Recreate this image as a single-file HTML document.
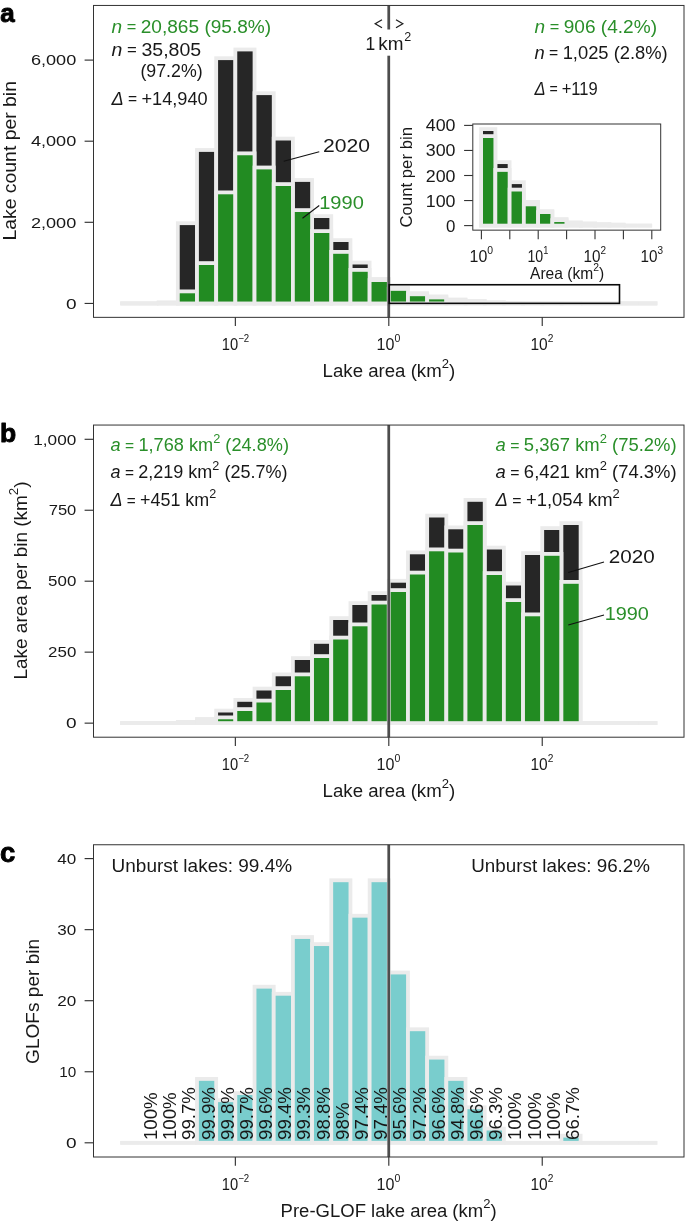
<!DOCTYPE html>
<html><head><meta charset="utf-8"><title>Figure</title>
<style>
html,body{margin:0;padding:0;background:#fff;}
body{width:685px;height:1221px;overflow:hidden;font-family:"Liberation Sans",sans-serif;}
svg{display:block;will-change:transform;font-family:"Liberation Sans",sans-serif;}
</style></head><body>
<svg width="685" height="1221" viewBox="0 0 685 1221">
<rect width="685" height="1221" fill="#fff"/>

<g id="panelA">
<line x1="120.28" y1="303.45" x2="657.32" y2="303.45" stroke="#ebebeb" stroke-width="3.8"/>
<line x1="120.28" y1="303.45" x2="139.46" y2="303.45" stroke="#ebebeb" stroke-width="3.8"/>
<line x1="139.46" y1="303.45" x2="158.64" y2="303.45" stroke="#ebebeb" stroke-width="3.8"/>
<rect x="158.64" y="302.30" width="19.18" height="1.15" fill="#262626" stroke="#ebebeb" stroke-width="3.8"/>
<rect x="177.82" y="223.20" width="19.18" height="80.25" fill="#262626" stroke="#ebebeb" stroke-width="3.8"/>
<rect x="197.00" y="150.00" width="19.18" height="153.45" fill="#262626" stroke="#ebebeb" stroke-width="3.8"/>
<rect x="216.18" y="58.20" width="19.18" height="245.25" fill="#262626" stroke="#ebebeb" stroke-width="3.8"/>
<rect x="235.36" y="49.50" width="19.18" height="253.95" fill="#262626" stroke="#ebebeb" stroke-width="3.8"/>
<rect x="254.54" y="93.20" width="19.18" height="210.25" fill="#262626" stroke="#ebebeb" stroke-width="3.8"/>
<rect x="273.72" y="138.60" width="19.18" height="164.85" fill="#262626" stroke="#ebebeb" stroke-width="3.8"/>
<rect x="292.90" y="180.00" width="19.18" height="123.45" fill="#262626" stroke="#ebebeb" stroke-width="3.8"/>
<rect x="312.08" y="216.10" width="19.18" height="87.35" fill="#262626" stroke="#ebebeb" stroke-width="3.8"/>
<rect x="331.26" y="240.10" width="19.18" height="63.35" fill="#262626" stroke="#ebebeb" stroke-width="3.8"/>
<rect x="350.44" y="262.60" width="19.18" height="40.85" fill="#262626" stroke="#ebebeb" stroke-width="3.8"/>
<rect x="369.62" y="279.00" width="19.18" height="24.45" fill="#262626" stroke="#ebebeb" stroke-width="3.8"/>
<rect x="388.80" y="287.80" width="19.18" height="15.65" fill="#262626" stroke="#ebebeb" stroke-width="3.8"/>
<rect x="407.98" y="293.15" width="19.18" height="10.30" fill="#262626" stroke="#ebebeb" stroke-width="3.8"/>
<rect x="427.16" y="296.40" width="19.18" height="7.05" fill="#262626" stroke="#ebebeb" stroke-width="3.8"/>
<rect x="446.34" y="299.50" width="19.18" height="3.95" fill="#262626" stroke="#ebebeb" stroke-width="3.8"/>
<rect x="465.52" y="301.10" width="19.18" height="2.35" fill="#262626" stroke="#ebebeb" stroke-width="3.8"/>
<rect x="484.70" y="302.39" width="19.18" height="1.06" fill="#262626" stroke="#ebebeb" stroke-width="3.8"/>
<rect x="503.88" y="302.95" width="19.18" height="0.50" fill="#262626" stroke="#ebebeb" stroke-width="3.8"/>
<rect x="523.06" y="303.10" width="19.18" height="0.35" fill="#262626" stroke="#ebebeb" stroke-width="3.8"/>
<rect x="542.24" y="303.20" width="19.18" height="0.25" fill="#262626" stroke="#ebebeb" stroke-width="3.8"/>
<rect x="561.42" y="303.30" width="19.18" height="0.15" fill="#262626" stroke="#ebebeb" stroke-width="3.8"/>
<line x1="580.60" y1="303.45" x2="599.78" y2="303.45" stroke="#ebebeb" stroke-width="3.8"/>
<line x1="599.78" y1="303.45" x2="618.96" y2="303.45" stroke="#ebebeb" stroke-width="3.8"/>
<line x1="618.96" y1="303.45" x2="638.14" y2="303.45" stroke="#ebebeb" stroke-width="3.8"/>
<line x1="638.14" y1="303.45" x2="657.32" y2="303.45" stroke="#ebebeb" stroke-width="3.8"/>
<line x1="120.28" y1="303.45" x2="139.46" y2="303.45" stroke="#ebebeb" stroke-width="3.8"/>
<line x1="139.46" y1="303.45" x2="158.64" y2="303.45" stroke="#ebebeb" stroke-width="3.8"/>
<rect x="158.64" y="303.00" width="19.18" height="0.45" fill="#228b22" stroke="#ebebeb" stroke-width="3.8"/>
<rect x="177.82" y="291.40" width="19.18" height="12.05" fill="#228b22" stroke="#ebebeb" stroke-width="3.8"/>
<rect x="197.00" y="263.10" width="19.18" height="40.35" fill="#228b22" stroke="#ebebeb" stroke-width="3.8"/>
<rect x="216.18" y="192.40" width="19.18" height="111.05" fill="#228b22" stroke="#ebebeb" stroke-width="3.8"/>
<rect x="235.36" y="153.35" width="19.18" height="150.10" fill="#228b22" stroke="#ebebeb" stroke-width="3.8"/>
<rect x="254.54" y="167.50" width="19.18" height="135.95" fill="#228b22" stroke="#ebebeb" stroke-width="3.8"/>
<rect x="273.72" y="184.10" width="19.18" height="119.35" fill="#228b22" stroke="#ebebeb" stroke-width="3.8"/>
<rect x="292.90" y="210.10" width="19.18" height="93.35" fill="#228b22" stroke="#ebebeb" stroke-width="3.8"/>
<rect x="312.08" y="231.10" width="19.18" height="72.35" fill="#228b22" stroke="#ebebeb" stroke-width="3.8"/>
<rect x="331.26" y="251.90" width="19.18" height="51.55" fill="#228b22" stroke="#ebebeb" stroke-width="3.8"/>
<rect x="350.44" y="269.90" width="19.18" height="33.55" fill="#228b22" stroke="#ebebeb" stroke-width="3.8"/>
<rect x="369.62" y="280.10" width="19.18" height="23.35" fill="#228b22" stroke="#ebebeb" stroke-width="3.8"/>
<rect x="388.80" y="288.95" width="19.18" height="14.50" fill="#228b22" stroke="#ebebeb" stroke-width="3.8"/>
<rect x="407.98" y="294.30" width="19.18" height="9.15" fill="#228b22" stroke="#ebebeb" stroke-width="3.8"/>
<rect x="427.16" y="297.50" width="19.18" height="5.95" fill="#228b22" stroke="#ebebeb" stroke-width="3.8"/>
<rect x="446.34" y="300.00" width="19.18" height="3.45" fill="#228b22" stroke="#ebebeb" stroke-width="3.8"/>
<rect x="465.52" y="301.26" width="19.18" height="2.19" fill="#228b22" stroke="#ebebeb" stroke-width="3.8"/>
<rect x="484.70" y="302.57" width="19.18" height="0.88" fill="#228b22" stroke="#ebebeb" stroke-width="3.8"/>
<rect x="503.88" y="303.00" width="19.18" height="0.45" fill="#228b22" stroke="#ebebeb" stroke-width="3.8"/>
<rect x="523.06" y="303.15" width="19.18" height="0.30" fill="#228b22" stroke="#ebebeb" stroke-width="3.8"/>
<rect x="542.24" y="303.25" width="19.18" height="0.20" fill="#228b22" stroke="#ebebeb" stroke-width="3.8"/>
<rect x="561.42" y="303.33" width="19.18" height="0.12" fill="#228b22" stroke="#ebebeb" stroke-width="3.8"/>
<line x1="580.60" y1="303.45" x2="599.78" y2="303.45" stroke="#ebebeb" stroke-width="3.8"/>
<line x1="599.78" y1="303.45" x2="618.96" y2="303.45" stroke="#ebebeb" stroke-width="3.8"/>
<line x1="618.96" y1="303.45" x2="638.14" y2="303.45" stroke="#ebebeb" stroke-width="3.8"/>
<line x1="638.14" y1="303.45" x2="657.32" y2="303.45" stroke="#ebebeb" stroke-width="3.8"/>
<line x1="388.75" y1="5.45" x2="388.75" y2="317.35" stroke="#4d4d4d" stroke-width="2.75"/>
<rect x="364" y="29.5" width="50" height="26.2" fill="#fff"/>
<polyline points="382.0,19.8 375.2,23.8 382.0,27.8" fill="none" stroke="#1f1f1f" stroke-width="1.25"/>
<polyline points="396.0,19.8 402.8,23.8 396.0,27.8" fill="none" stroke="#1f1f1f" stroke-width="1.25"/>
<text x="365.60" y="49.50" font-size="17.5" fill="#181818">1</text>
<text x="378.20" y="49.50" font-size="17.5" fill="#181818" textLength="25.20" lengthAdjust="spacingAndGlyphs">km</text>
<text x="404.30" y="41.30" font-size="12" fill="#181818" textLength="7.00" lengthAdjust="spacingAndGlyphs">2</text>
<rect x="389.2" y="284.75" width="230.3" height="18.6" fill="none" stroke="#0a0a0a" stroke-width="1.6"/>
<rect x="93.5" y="5.45" width="590.5" height="311.90000000000003" fill="none" stroke="#333" stroke-width="1"/>
<line x1="235.36" y1="317.35" x2="235.36" y2="326.05" stroke="#333" stroke-width="1.15"/><line x1="388.80" y1="317.35" x2="388.80" y2="326.05" stroke="#333" stroke-width="1.15"/><line x1="542.24" y1="317.35" x2="542.24" y2="326.05" stroke="#333" stroke-width="1.15"/>
<line x1="84.6" y1="60.10" x2="93.5" y2="60.10" stroke="#333" stroke-width="1.15"/><line x1="84.6" y1="141.20" x2="93.5" y2="141.20" stroke="#333" stroke-width="1.15"/><line x1="84.6" y1="222.30" x2="93.5" y2="222.30" stroke="#333" stroke-width="1.15"/><line x1="84.6" y1="303.45" x2="93.5" y2="303.45" stroke="#333" stroke-width="1.15"/>
<text x="76.30" y="65.30" font-size="15.5" fill="#181818" text-anchor="end" textLength="45.40" lengthAdjust="spacingAndGlyphs">6,000</text>
<text x="76.30" y="146.40" font-size="15.5" fill="#181818" text-anchor="end" textLength="45.40" lengthAdjust="spacingAndGlyphs">4,000</text>
<text x="76.30" y="227.50" font-size="15.5" fill="#181818" text-anchor="end" textLength="45.40" lengthAdjust="spacingAndGlyphs">2,000</text>
<text x="76.60" y="308.65" font-size="15.5" fill="#181818" text-anchor="end" textLength="10.60" lengthAdjust="spacingAndGlyphs">0</text>
<text transform="translate(15.90,160.80) rotate(-90)" font-size="17.5" fill="#181818" text-anchor="middle" textLength="159.50" lengthAdjust="spacingAndGlyphs">Lake count per bin</text>
<text x="0.3" y="22.2" font-size="26" font-weight="bold" fill="#000" stroke="#000" stroke-width="0.9" stroke-linejoin="round">a</text>
<text x="111.50" y="32.70" font-size="17.5" fill="#2a8f2a" textLength="159.70" lengthAdjust="spacingAndGlyphs"><tspan font-style="italic">n</tspan><tspan font-size="15" dy="-0.7"> =</tspan><tspan font-size="15" dy="0.7"> </tspan>20,865 (95.8%)</text>
<text x="111.50" y="55.50" font-size="17.5" fill="#181818" textLength="89.70" lengthAdjust="spacingAndGlyphs"><tspan font-style="italic">n</tspan><tspan font-size="15" dy="-0.7"> =</tspan><tspan font-size="15" dy="0.7"> </tspan>35,805</text>
<text x="140.40" y="77.40" font-size="17.5" fill="#181818" textLength="62.20" lengthAdjust="spacingAndGlyphs">(97.2%)</text>
<text x="111.50" y="105.10" font-size="17.5" fill="#181818" textLength="96.10" lengthAdjust="spacingAndGlyphs"><tspan font-style="italic">&#916;</tspan><tspan font-size="15" dy="-0.7"> =</tspan><tspan font-size="15" dy="0.7"> </tspan>+14,940</text>
<text x="534.50" y="33.00" font-size="17.5" fill="#2a8f2a" textLength="122.50" lengthAdjust="spacingAndGlyphs"><tspan font-style="italic">n</tspan><tspan font-size="15" dy="-0.7"> =</tspan><tspan font-size="15" dy="0.7"> </tspan>906 (4.2%)</text>
<text x="534.50" y="58.70" font-size="17.5" fill="#181818" textLength="133.20" lengthAdjust="spacingAndGlyphs"><tspan font-style="italic">n</tspan><tspan font-size="15" dy="-0.7"> =</tspan><tspan font-size="15" dy="0.7"> </tspan>1,025 (2.8%)</text>
<text x="534.50" y="94.50" font-size="17.5" fill="#181818" textLength="63.20" lengthAdjust="spacingAndGlyphs"><tspan font-style="italic">&#916;</tspan><tspan font-size="15" dy="-0.7"> =</tspan><tspan font-size="15" dy="0.7"> </tspan>+119</text>
<text x="323.00" y="152.00" font-size="18.7" fill="#181818" textLength="47.00" lengthAdjust="spacingAndGlyphs">2020</text>
<line x1="319.25" y1="151.75" x2="283.75" y2="161.25" stroke="#111" stroke-width="1.1"/>
<text x="319.20" y="208.90" font-size="18.7" fill="#2a8f2a" textLength="44.60" lengthAdjust="spacingAndGlyphs">1990</text>
<line x1="319.25" y1="205.5" x2="302.5" y2="218.25" stroke="#111" stroke-width="1.1"/>
<text x="221.80" y="349.50" font-size="16" fill="#181818" textLength="27.40" lengthAdjust="spacingAndGlyphs">10<tspan font-size="10.5" dy="-7.6">&#8722;2</tspan><tspan dy="7.6" font-size="1">&#8203;</tspan></text><text x="376.60" y="349.50" font-size="16" fill="#181818" textLength="23.70" lengthAdjust="spacingAndGlyphs">10<tspan font-size="10.5" dy="-7.6">0</tspan><tspan dy="7.6" font-size="1">&#8203;</tspan></text><text x="530.40" y="349.50" font-size="16" fill="#181818" textLength="22.90" lengthAdjust="spacingAndGlyphs">10<tspan font-size="10.5" dy="-7.6">2</tspan><tspan dy="7.6" font-size="1">&#8203;</tspan></text>
<text x="322.60" y="377.00" font-size="17.5" fill="#181818" textLength="132.60" lengthAdjust="spacingAndGlyphs">Lake area (km<tspan font-size="12.3" dy="-9.5">2</tspan><tspan dy="9.5" font-size="1">&#8203;</tspan>)</text>
<rect x="472.8" y="124.0" width="187.90000000000003" height="106.15" fill="#fff" stroke="none"/>
<rect x="481.10" y="129.10" width="14.25" height="96.50" fill="#262626" stroke="#ebebeb" stroke-width="3.8"/>
<rect x="495.35" y="162.15" width="14.25" height="63.45" fill="#262626" stroke="#ebebeb" stroke-width="3.8"/>
<rect x="509.60" y="182.20" width="14.25" height="43.40" fill="#262626" stroke="#ebebeb" stroke-width="3.8"/>
<rect x="523.85" y="201.90" width="14.25" height="23.70" fill="#262626" stroke="#ebebeb" stroke-width="3.8"/>
<rect x="538.10" y="211.10" width="14.25" height="14.50" fill="#262626" stroke="#ebebeb" stroke-width="3.8"/>
<rect x="552.35" y="219.05" width="14.25" height="6.55" fill="#262626" stroke="#ebebeb" stroke-width="3.8"/>
<rect x="566.60" y="222.50" width="14.25" height="3.10" fill="#262626" stroke="#ebebeb" stroke-width="3.8"/>
<rect x="580.85" y="223.50" width="14.25" height="2.10" fill="#262626" stroke="#ebebeb" stroke-width="3.8"/>
<rect x="595.10" y="224.10" width="14.25" height="1.50" fill="#262626" stroke="#ebebeb" stroke-width="3.8"/>
<rect x="609.35" y="224.65" width="14.25" height="0.95" fill="#262626" stroke="#ebebeb" stroke-width="3.8"/>
<line x1="623.60" y1="225.60" x2="637.85" y2="225.60" stroke="#ebebeb" stroke-width="3.8"/>
<line x1="637.85" y1="225.60" x2="652.10" y2="225.60" stroke="#ebebeb" stroke-width="3.8"/>
<rect x="481.10" y="136.10" width="14.25" height="89.50" fill="#228b22" stroke="#ebebeb" stroke-width="3.8"/>
<rect x="495.35" y="169.95" width="14.25" height="55.65" fill="#228b22" stroke="#ebebeb" stroke-width="3.8"/>
<rect x="509.60" y="189.60" width="14.25" height="36.00" fill="#228b22" stroke="#ebebeb" stroke-width="3.8"/>
<rect x="523.85" y="204.40" width="14.25" height="21.20" fill="#228b22" stroke="#ebebeb" stroke-width="3.8"/>
<rect x="538.10" y="212.10" width="14.25" height="13.50" fill="#228b22" stroke="#ebebeb" stroke-width="3.8"/>
<rect x="552.35" y="220.15" width="14.25" height="5.45" fill="#228b22" stroke="#ebebeb" stroke-width="3.8"/>
<rect x="566.60" y="222.70" width="14.25" height="2.90" fill="#228b22" stroke="#ebebeb" stroke-width="3.8"/>
<rect x="580.85" y="223.70" width="14.25" height="1.90" fill="#228b22" stroke="#ebebeb" stroke-width="3.8"/>
<rect x="595.10" y="224.25" width="14.25" height="1.35" fill="#228b22" stroke="#ebebeb" stroke-width="3.8"/>
<rect x="609.35" y="224.80" width="14.25" height="0.80" fill="#228b22" stroke="#ebebeb" stroke-width="3.8"/>
<line x1="623.60" y1="225.60" x2="637.85" y2="225.60" stroke="#ebebeb" stroke-width="3.8"/>
<line x1="637.85" y1="225.60" x2="652.10" y2="225.60" stroke="#ebebeb" stroke-width="3.8"/>
<rect x="472.8" y="124.0" width="187.90000000000003" height="106.15" fill="none" stroke="#333" stroke-width="1"/>
<line x1="464.1" y1="125.4" x2="472.8" y2="125.4" stroke="#333" stroke-width="1.1"/>
<text x="455.50" y="131.40" font-size="16.5" fill="#181818" text-anchor="end" textLength="29.75" lengthAdjust="spacingAndGlyphs">400</text>
<line x1="464.1" y1="150.45" x2="472.8" y2="150.45" stroke="#333" stroke-width="1.1"/>
<text x="455.50" y="156.45" font-size="16.5" fill="#181818" text-anchor="end" textLength="29.75" lengthAdjust="spacingAndGlyphs">300</text>
<line x1="464.1" y1="175.5" x2="472.8" y2="175.5" stroke="#333" stroke-width="1.1"/>
<text x="455.50" y="181.50" font-size="16.5" fill="#181818" text-anchor="end" textLength="29.75" lengthAdjust="spacingAndGlyphs">200</text>
<line x1="464.1" y1="200.55" x2="472.8" y2="200.55" stroke="#333" stroke-width="1.1"/>
<text x="455.50" y="206.55" font-size="16.5" fill="#181818" text-anchor="end" textLength="29.75" lengthAdjust="spacingAndGlyphs">100</text>
<line x1="464.1" y1="225.6" x2="472.8" y2="225.6" stroke="#333" stroke-width="1.1"/>
<text x="455.50" y="231.60" font-size="16.5" fill="#181818" text-anchor="end" textLength="9.40" lengthAdjust="spacingAndGlyphs">0</text>
<line x1="481.40" y1="230.15" x2="481.40" y2="239.15" stroke="#333" stroke-width="1.1"/>
<line x1="509.80" y1="230.15" x2="509.80" y2="239.15" stroke="#333" stroke-width="1.1"/>
<line x1="538.20" y1="230.15" x2="538.20" y2="239.15" stroke="#333" stroke-width="1.1"/>
<line x1="566.60" y1="230.15" x2="566.60" y2="239.15" stroke="#333" stroke-width="1.1"/>
<line x1="595.00" y1="230.15" x2="595.00" y2="239.15" stroke="#333" stroke-width="1.1"/>
<line x1="623.40" y1="230.15" x2="623.40" y2="239.15" stroke="#333" stroke-width="1.1"/>
<line x1="651.80" y1="230.15" x2="651.80" y2="239.15" stroke="#333" stroke-width="1.1"/>
<text x="469.60" y="262.00" font-size="16" fill="#181818" textLength="23.50" lengthAdjust="spacingAndGlyphs">10<tspan font-size="10.5" dy="-7.6">0</tspan><tspan dy="7.6" font-size="1">&#8203;</tspan></text>
<text x="527.40" y="262.00" font-size="16" fill="#181818" textLength="20.90" lengthAdjust="spacingAndGlyphs">10<tspan font-size="10.5" dy="-7.6">1</tspan><tspan dy="7.6" font-size="1">&#8203;</tspan></text>
<text x="583.60" y="262.00" font-size="16" fill="#181818" textLength="22.50" lengthAdjust="spacingAndGlyphs">10<tspan font-size="10.5" dy="-7.6">2</tspan><tspan dy="7.6" font-size="1">&#8203;</tspan></text>
<text x="640.50" y="262.00" font-size="16" fill="#181818" textLength="22.50" lengthAdjust="spacingAndGlyphs">10<tspan font-size="10.5" dy="-7.6">3</tspan><tspan dy="7.6" font-size="1">&#8203;</tspan></text>
<text x="530.00" y="278.75" font-size="16.5" fill="#181818" textLength="74.20" lengthAdjust="spacingAndGlyphs">Area (km<tspan font-size="11" dy="-8.2">2</tspan><tspan dy="8.2" font-size="1">&#8203;</tspan>)</text>
<text transform="translate(411.90,177.30) rotate(-90)" font-size="16.5" fill="#181818" text-anchor="middle" textLength="100.60" lengthAdjust="spacingAndGlyphs">Count per bin</text>
</g>
<g id="panelB">
<line x1="120.28" y1="723.10" x2="657.32" y2="723.10" stroke="#ebebeb" stroke-width="3.8"/>
<line x1="120.28" y1="723.10" x2="139.46" y2="723.10" stroke="#ebebeb" stroke-width="3.8"/>
<line x1="139.46" y1="723.10" x2="158.64" y2="723.10" stroke="#ebebeb" stroke-width="3.8"/>
<line x1="158.64" y1="723.10" x2="177.82" y2="723.10" stroke="#ebebeb" stroke-width="3.8"/>
<rect x="177.82" y="721.90" width="19.18" height="1.20" fill="#262626" stroke="#ebebeb" stroke-width="3.8"/>
<rect x="197.00" y="719.00" width="19.18" height="4.10" fill="#262626" stroke="#ebebeb" stroke-width="3.8"/>
<rect x="216.18" y="710.60" width="19.18" height="12.50" fill="#262626" stroke="#ebebeb" stroke-width="3.8"/>
<rect x="235.36" y="699.90" width="19.18" height="23.20" fill="#262626" stroke="#ebebeb" stroke-width="3.8"/>
<rect x="254.54" y="688.60" width="19.18" height="34.50" fill="#262626" stroke="#ebebeb" stroke-width="3.8"/>
<rect x="273.72" y="674.40" width="19.18" height="48.70" fill="#262626" stroke="#ebebeb" stroke-width="3.8"/>
<rect x="292.90" y="658.10" width="19.18" height="65.00" fill="#262626" stroke="#ebebeb" stroke-width="3.8"/>
<rect x="312.08" y="641.90" width="19.18" height="81.20" fill="#262626" stroke="#ebebeb" stroke-width="3.8"/>
<rect x="331.26" y="618.10" width="19.18" height="105.00" fill="#262626" stroke="#ebebeb" stroke-width="3.8"/>
<rect x="350.44" y="603.10" width="19.18" height="120.00" fill="#262626" stroke="#ebebeb" stroke-width="3.8"/>
<rect x="369.62" y="593.10" width="19.18" height="130.00" fill="#262626" stroke="#ebebeb" stroke-width="3.8"/>
<rect x="388.80" y="580.80" width="19.18" height="142.30" fill="#262626" stroke="#ebebeb" stroke-width="3.8"/>
<rect x="407.98" y="552.40" width="19.18" height="170.70" fill="#262626" stroke="#ebebeb" stroke-width="3.8"/>
<rect x="427.16" y="515.60" width="19.18" height="207.50" fill="#262626" stroke="#ebebeb" stroke-width="3.8"/>
<rect x="446.34" y="527.40" width="19.18" height="195.70" fill="#262626" stroke="#ebebeb" stroke-width="3.8"/>
<rect x="465.52" y="499.90" width="19.18" height="223.20" fill="#262626" stroke="#ebebeb" stroke-width="3.8"/>
<rect x="484.70" y="547.60" width="19.18" height="175.50" fill="#262626" stroke="#ebebeb" stroke-width="3.8"/>
<rect x="503.88" y="583.60" width="19.18" height="139.50" fill="#262626" stroke="#ebebeb" stroke-width="3.8"/>
<rect x="523.06" y="553.10" width="19.18" height="170.00" fill="#262626" stroke="#ebebeb" stroke-width="3.8"/>
<rect x="542.24" y="528.10" width="19.18" height="195.00" fill="#262626" stroke="#ebebeb" stroke-width="3.8"/>
<rect x="561.42" y="523.10" width="19.18" height="200.00" fill="#262626" stroke="#ebebeb" stroke-width="3.8"/>
<line x1="580.60" y1="723.10" x2="599.78" y2="723.10" stroke="#ebebeb" stroke-width="3.8"/>
<line x1="599.78" y1="723.10" x2="618.96" y2="723.10" stroke="#ebebeb" stroke-width="3.8"/>
<line x1="618.96" y1="723.10" x2="638.14" y2="723.10" stroke="#ebebeb" stroke-width="3.8"/>
<line x1="638.14" y1="723.10" x2="657.32" y2="723.10" stroke="#ebebeb" stroke-width="3.8"/>
<line x1="120.28" y1="723.10" x2="139.46" y2="723.10" stroke="#ebebeb" stroke-width="3.8"/>
<line x1="139.46" y1="723.10" x2="158.64" y2="723.10" stroke="#ebebeb" stroke-width="3.8"/>
<line x1="158.64" y1="723.10" x2="177.82" y2="723.10" stroke="#ebebeb" stroke-width="3.8"/>
<rect x="177.82" y="722.40" width="19.18" height="0.70" fill="#228b22" stroke="#ebebeb" stroke-width="3.8"/>
<rect x="197.00" y="720.50" width="19.18" height="2.60" fill="#228b22" stroke="#ebebeb" stroke-width="3.8"/>
<rect x="216.18" y="717.40" width="19.18" height="5.70" fill="#228b22" stroke="#ebebeb" stroke-width="3.8"/>
<rect x="235.36" y="709.10" width="19.18" height="14.00" fill="#228b22" stroke="#ebebeb" stroke-width="3.8"/>
<rect x="254.54" y="700.60" width="19.18" height="22.50" fill="#228b22" stroke="#ebebeb" stroke-width="3.8"/>
<rect x="273.72" y="688.10" width="19.18" height="35.00" fill="#228b22" stroke="#ebebeb" stroke-width="3.8"/>
<rect x="292.90" y="674.40" width="19.18" height="48.70" fill="#228b22" stroke="#ebebeb" stroke-width="3.8"/>
<rect x="312.08" y="656.10" width="19.18" height="67.00" fill="#228b22" stroke="#ebebeb" stroke-width="3.8"/>
<rect x="331.26" y="637.60" width="19.18" height="85.50" fill="#228b22" stroke="#ebebeb" stroke-width="3.8"/>
<rect x="350.44" y="624.40" width="19.18" height="98.70" fill="#228b22" stroke="#ebebeb" stroke-width="3.8"/>
<rect x="369.62" y="602.60" width="19.18" height="120.50" fill="#228b22" stroke="#ebebeb" stroke-width="3.8"/>
<rect x="388.80" y="590.10" width="19.18" height="133.00" fill="#228b22" stroke="#ebebeb" stroke-width="3.8"/>
<rect x="407.98" y="572.60" width="19.18" height="150.50" fill="#228b22" stroke="#ebebeb" stroke-width="3.8"/>
<rect x="427.16" y="549.40" width="19.18" height="173.70" fill="#228b22" stroke="#ebebeb" stroke-width="3.8"/>
<rect x="446.34" y="550.60" width="19.18" height="172.50" fill="#228b22" stroke="#ebebeb" stroke-width="3.8"/>
<rect x="465.52" y="523.10" width="19.18" height="200.00" fill="#228b22" stroke="#ebebeb" stroke-width="3.8"/>
<rect x="484.70" y="573.10" width="19.18" height="150.00" fill="#228b22" stroke="#ebebeb" stroke-width="3.8"/>
<rect x="503.88" y="600.10" width="19.18" height="123.00" fill="#228b22" stroke="#ebebeb" stroke-width="3.8"/>
<rect x="523.06" y="614.40" width="19.18" height="108.70" fill="#228b22" stroke="#ebebeb" stroke-width="3.8"/>
<rect x="542.24" y="553.90" width="19.18" height="169.20" fill="#228b22" stroke="#ebebeb" stroke-width="3.8"/>
<rect x="561.42" y="581.90" width="19.18" height="141.20" fill="#228b22" stroke="#ebebeb" stroke-width="3.8"/>
<line x1="580.60" y1="723.10" x2="599.78" y2="723.10" stroke="#ebebeb" stroke-width="3.8"/>
<line x1="599.78" y1="723.10" x2="618.96" y2="723.10" stroke="#ebebeb" stroke-width="3.8"/>
<line x1="618.96" y1="723.10" x2="638.14" y2="723.10" stroke="#ebebeb" stroke-width="3.8"/>
<line x1="638.14" y1="723.10" x2="657.32" y2="723.10" stroke="#ebebeb" stroke-width="3.8"/>
<line x1="388.75" y1="425.05" x2="388.75" y2="737.2" stroke="#4d4d4d" stroke-width="2.75"/>
<rect x="93.5" y="425.05" width="590.5" height="312.15000000000003" fill="none" stroke="#333" stroke-width="1"/>
<line x1="235.36" y1="737.2" x2="235.36" y2="745.9000000000001" stroke="#333" stroke-width="1.15"/><line x1="388.80" y1="737.2" x2="388.80" y2="745.9000000000001" stroke="#333" stroke-width="1.15"/><line x1="542.24" y1="737.2" x2="542.24" y2="745.9000000000001" stroke="#333" stroke-width="1.15"/>
<line x1="84.6" y1="439.30" x2="93.5" y2="439.30" stroke="#333" stroke-width="1.15"/><line x1="84.6" y1="510.25" x2="93.5" y2="510.25" stroke="#333" stroke-width="1.15"/><line x1="84.6" y1="581.20" x2="93.5" y2="581.20" stroke="#333" stroke-width="1.15"/><line x1="84.6" y1="652.15" x2="93.5" y2="652.15" stroke="#333" stroke-width="1.15"/><line x1="84.6" y1="723.15" x2="93.5" y2="723.15" stroke="#333" stroke-width="1.15"/>
<text x="76.30" y="444.50" font-size="15.5" fill="#181818" text-anchor="end" textLength="43.00" lengthAdjust="spacingAndGlyphs">1,000</text>
<text x="76.30" y="515.45" font-size="15.5" fill="#181818" text-anchor="end" textLength="27.60" lengthAdjust="spacingAndGlyphs">750</text>
<text x="76.30" y="586.40" font-size="15.5" fill="#181818" text-anchor="end" textLength="28.20" lengthAdjust="spacingAndGlyphs">500</text>
<text x="76.30" y="657.35" font-size="15.5" fill="#181818" text-anchor="end" textLength="28.20" lengthAdjust="spacingAndGlyphs">250</text>
<text x="76.60" y="728.35" font-size="15.5" fill="#181818" text-anchor="end" textLength="10.60" lengthAdjust="spacingAndGlyphs">0</text>
<text transform="translate(26.70,580.50) rotate(-90)" font-size="17.5" fill="#181818" text-anchor="middle" textLength="198.00" lengthAdjust="spacingAndGlyphs">Lake area per bin (km<tspan font-size="12.3" dy="-8.4">2</tspan><tspan dy="8.4" font-size="1">&#8203;</tspan>)</text>
<text x="0.0" y="441.7" font-size="26.5" font-weight="bold" fill="#000" stroke="#000" stroke-width="0.9" stroke-linejoin="round">b</text>
<text x="110.60" y="451.40" font-size="17.5" fill="#2a8f2a" textLength="178.40" lengthAdjust="spacingAndGlyphs"><tspan font-style="italic">a</tspan><tspan font-size="15" dy="-0.7"> =</tspan><tspan font-size="15" dy="0.7"> </tspan>1,768 km<tspan font-size="12.3" dy="-8.5">2</tspan><tspan dy="8.5" font-size="1">&#8203;</tspan> (24.8%)</text>
<text x="110.60" y="478.40" font-size="17.5" fill="#181818" textLength="176.90" lengthAdjust="spacingAndGlyphs"><tspan font-style="italic">a</tspan><tspan font-size="15" dy="-0.7"> =</tspan><tspan font-size="15" dy="0.7"> </tspan>2,219 km<tspan font-size="12.3" dy="-8.5">2</tspan><tspan dy="8.5" font-size="1">&#8203;</tspan> (25.7%)</text>
<text x="110.60" y="506.20" font-size="17.5" fill="#181818" textLength="105.60" lengthAdjust="spacingAndGlyphs"><tspan font-style="italic">&#916;</tspan><tspan font-size="15" dy="-0.7"> =</tspan><tspan font-size="15" dy="0.7"> </tspan>+451 km<tspan font-size="12.3" dy="-8.5">2</tspan><tspan dy="8.5" font-size="1">&#8203;</tspan></text>
<text x="495.60" y="451.40" font-size="17.5" fill="#2a8f2a" textLength="181.00" lengthAdjust="spacingAndGlyphs"><tspan font-style="italic">a</tspan><tspan font-size="15" dy="-0.7"> =</tspan><tspan font-size="15" dy="0.7"> </tspan>5,367 km<tspan font-size="12.3" dy="-8.5">2</tspan><tspan dy="8.5" font-size="1">&#8203;</tspan> (75.2%)</text>
<text x="495.60" y="478.40" font-size="17.5" fill="#181818" textLength="181.00" lengthAdjust="spacingAndGlyphs"><tspan font-style="italic">a</tspan><tspan font-size="15" dy="-0.7"> =</tspan><tspan font-size="15" dy="0.7"> </tspan>6,421 km<tspan font-size="12.3" dy="-8.5">2</tspan><tspan dy="8.5" font-size="1">&#8203;</tspan> (74.3%)</text>
<text x="495.60" y="506.20" font-size="17.5" fill="#181818" textLength="124.20" lengthAdjust="spacingAndGlyphs"><tspan font-style="italic">&#916;</tspan><tspan font-size="15" dy="-0.7"> =</tspan><tspan font-size="15" dy="0.7"> </tspan>+1,054 km<tspan font-size="12.3" dy="-8.5">2</tspan><tspan dy="8.5" font-size="1">&#8203;</tspan></text>
<text x="608.70" y="563.00" font-size="18.7" fill="#181818" textLength="46.00" lengthAdjust="spacingAndGlyphs">2020</text>
<line x1="604" y1="562" x2="568.25" y2="572.5" stroke="#111" stroke-width="1.1"/>
<text x="604.70" y="620.10" font-size="18.7" fill="#2a8f2a" textLength="44.20" lengthAdjust="spacingAndGlyphs">1990</text>
<line x1="604" y1="615" x2="568.25" y2="625" stroke="#111" stroke-width="1.1"/>
<text x="221.80" y="769.50" font-size="16" fill="#181818" textLength="27.40" lengthAdjust="spacingAndGlyphs">10<tspan font-size="10.5" dy="-7.6">&#8722;2</tspan><tspan dy="7.6" font-size="1">&#8203;</tspan></text><text x="376.60" y="769.50" font-size="16" fill="#181818" textLength="23.70" lengthAdjust="spacingAndGlyphs">10<tspan font-size="10.5" dy="-7.6">0</tspan><tspan dy="7.6" font-size="1">&#8203;</tspan></text><text x="530.40" y="769.50" font-size="16" fill="#181818" textLength="22.90" lengthAdjust="spacingAndGlyphs">10<tspan font-size="10.5" dy="-7.6">2</tspan><tspan dy="7.6" font-size="1">&#8203;</tspan></text>
<text x="322.60" y="797.00" font-size="17.5" fill="#181818" textLength="132.60" lengthAdjust="spacingAndGlyphs">Lake area (km<tspan font-size="12.3" dy="-9.5">2</tspan><tspan dy="9.5" font-size="1">&#8203;</tspan>)</text>
</g>
<g id="panelC">
<line x1="120.28" y1="1142.80" x2="657.32" y2="1142.80" stroke="#ebebeb" stroke-width="3.8"/>
<line x1="120.28" y1="1142.80" x2="139.46" y2="1142.80" stroke="#ebebeb" stroke-width="3.8"/>
<line x1="139.46" y1="1142.80" x2="158.64" y2="1142.80" stroke="#ebebeb" stroke-width="3.8"/>
<line x1="158.64" y1="1142.80" x2="177.82" y2="1142.80" stroke="#ebebeb" stroke-width="3.8"/>
<line x1="177.82" y1="1142.80" x2="197.00" y2="1142.80" stroke="#ebebeb" stroke-width="3.8"/>
<rect x="197.00" y="1078.94" width="19.18" height="63.86" fill="#79cdcd" stroke="#ebebeb" stroke-width="3.8"/>
<rect x="216.18" y="1100.23" width="19.18" height="42.57" fill="#79cdcd" stroke="#ebebeb" stroke-width="3.8"/>
<rect x="235.36" y="1093.13" width="19.18" height="49.66" fill="#79cdcd" stroke="#ebebeb" stroke-width="3.8"/>
<rect x="254.54" y="986.71" width="19.18" height="156.09" fill="#79cdcd" stroke="#ebebeb" stroke-width="3.8"/>
<rect x="273.72" y="993.80" width="19.18" height="149.00" fill="#79cdcd" stroke="#ebebeb" stroke-width="3.8"/>
<rect x="292.90" y="937.04" width="19.18" height="205.75" fill="#79cdcd" stroke="#ebebeb" stroke-width="3.8"/>
<rect x="312.08" y="944.14" width="19.18" height="198.66" fill="#79cdcd" stroke="#ebebeb" stroke-width="3.8"/>
<rect x="331.26" y="880.28" width="19.18" height="262.51" fill="#79cdcd" stroke="#ebebeb" stroke-width="3.8"/>
<rect x="350.44" y="915.76" width="19.18" height="227.04" fill="#79cdcd" stroke="#ebebeb" stroke-width="3.8"/>
<rect x="369.62" y="880.28" width="19.18" height="262.51" fill="#79cdcd" stroke="#ebebeb" stroke-width="3.8"/>
<rect x="388.80" y="972.52" width="19.18" height="170.28" fill="#79cdcd" stroke="#ebebeb" stroke-width="3.8"/>
<rect x="407.98" y="1029.28" width="19.18" height="113.52" fill="#79cdcd" stroke="#ebebeb" stroke-width="3.8"/>
<rect x="427.16" y="1057.66" width="19.18" height="85.14" fill="#79cdcd" stroke="#ebebeb" stroke-width="3.8"/>
<rect x="446.34" y="1078.94" width="19.18" height="63.86" fill="#79cdcd" stroke="#ebebeb" stroke-width="3.8"/>
<rect x="465.52" y="1107.33" width="19.18" height="35.47" fill="#79cdcd" stroke="#ebebeb" stroke-width="3.8"/>
<rect x="484.70" y="1128.61" width="19.18" height="14.19" fill="#79cdcd" stroke="#ebebeb" stroke-width="3.8"/>
<line x1="503.88" y1="1142.80" x2="523.06" y2="1142.80" stroke="#ebebeb" stroke-width="3.8"/>
<line x1="523.06" y1="1142.80" x2="542.24" y2="1142.80" stroke="#ebebeb" stroke-width="3.8"/>
<line x1="542.24" y1="1142.80" x2="561.42" y2="1142.80" stroke="#ebebeb" stroke-width="3.8"/>
<rect x="561.42" y="1135.70" width="19.18" height="7.10" fill="#79cdcd" stroke="#ebebeb" stroke-width="3.8"/>
<line x1="580.60" y1="1142.80" x2="599.78" y2="1142.80" stroke="#ebebeb" stroke-width="3.8"/>
<line x1="599.78" y1="1142.80" x2="618.96" y2="1142.80" stroke="#ebebeb" stroke-width="3.8"/>
<line x1="618.96" y1="1142.80" x2="638.14" y2="1142.80" stroke="#ebebeb" stroke-width="3.8"/>
<line x1="638.14" y1="1142.80" x2="657.32" y2="1142.80" stroke="#ebebeb" stroke-width="3.8"/>
<text transform="translate(157.04,1140.00) rotate(-90)" font-size="18.4" fill="#181818" text-anchor="start" textLength="47.60" lengthAdjust="spacingAndGlyphs">100%</text>
<text transform="translate(176.22,1140.00) rotate(-90)" font-size="18.4" fill="#181818" text-anchor="start" textLength="47.60" lengthAdjust="spacingAndGlyphs">100%</text>
<text transform="translate(195.40,1140.00) rotate(-90)" font-size="18.4" fill="#181818" text-anchor="start" textLength="53.00" lengthAdjust="spacingAndGlyphs">99.7%</text>
<text transform="translate(214.58,1140.00) rotate(-90)" font-size="18.4" fill="#181818" text-anchor="start" textLength="53.00" lengthAdjust="spacingAndGlyphs">99.9%</text>
<text transform="translate(233.76,1140.00) rotate(-90)" font-size="18.4" fill="#181818" text-anchor="start" textLength="53.00" lengthAdjust="spacingAndGlyphs">99.8%</text>
<text transform="translate(252.94,1140.00) rotate(-90)" font-size="18.4" fill="#181818" text-anchor="start" textLength="53.00" lengthAdjust="spacingAndGlyphs">99.7%</text>
<text transform="translate(272.12,1140.00) rotate(-90)" font-size="18.4" fill="#181818" text-anchor="start" textLength="53.00" lengthAdjust="spacingAndGlyphs">99.6%</text>
<text transform="translate(291.30,1140.00) rotate(-90)" font-size="18.4" fill="#181818" text-anchor="start" textLength="53.00" lengthAdjust="spacingAndGlyphs">99.4%</text>
<text transform="translate(310.48,1140.00) rotate(-90)" font-size="18.4" fill="#181818" text-anchor="start" textLength="53.00" lengthAdjust="spacingAndGlyphs">99.3%</text>
<text transform="translate(329.66,1140.00) rotate(-90)" font-size="18.4" fill="#181818" text-anchor="start" textLength="53.00" lengthAdjust="spacingAndGlyphs">98.8%</text>
<text transform="translate(348.84,1140.00) rotate(-90)" font-size="18.4" fill="#181818" text-anchor="start" textLength="37.60" lengthAdjust="spacingAndGlyphs">98%</text>
<text transform="translate(368.02,1140.00) rotate(-90)" font-size="18.4" fill="#181818" text-anchor="start" textLength="53.00" lengthAdjust="spacingAndGlyphs">97.4%</text>
<text transform="translate(387.20,1140.00) rotate(-90)" font-size="18.4" fill="#181818" text-anchor="start" textLength="53.00" lengthAdjust="spacingAndGlyphs">97.4%</text>
<text transform="translate(406.38,1140.00) rotate(-90)" font-size="18.4" fill="#181818" text-anchor="start" textLength="53.00" lengthAdjust="spacingAndGlyphs">95.6%</text>
<text transform="translate(425.56,1140.00) rotate(-90)" font-size="18.4" fill="#181818" text-anchor="start" textLength="53.00" lengthAdjust="spacingAndGlyphs">97.2%</text>
<text transform="translate(444.74,1140.00) rotate(-90)" font-size="18.4" fill="#181818" text-anchor="start" textLength="53.00" lengthAdjust="spacingAndGlyphs">96.6%</text>
<text transform="translate(463.92,1140.00) rotate(-90)" font-size="18.4" fill="#181818" text-anchor="start" textLength="53.00" lengthAdjust="spacingAndGlyphs">94.8%</text>
<text transform="translate(483.10,1140.00) rotate(-90)" font-size="18.4" fill="#181818" text-anchor="start" textLength="53.00" lengthAdjust="spacingAndGlyphs">96.6%</text>
<text transform="translate(502.28,1140.00) rotate(-90)" font-size="18.4" fill="#181818" text-anchor="start" textLength="53.00" lengthAdjust="spacingAndGlyphs">96.3%</text>
<text transform="translate(521.46,1140.00) rotate(-90)" font-size="18.4" fill="#181818" text-anchor="start" textLength="47.60" lengthAdjust="spacingAndGlyphs">100%</text>
<text transform="translate(540.64,1140.00) rotate(-90)" font-size="18.4" fill="#181818" text-anchor="start" textLength="47.60" lengthAdjust="spacingAndGlyphs">100%</text>
<text transform="translate(559.82,1140.00) rotate(-90)" font-size="18.4" fill="#181818" text-anchor="start" textLength="47.60" lengthAdjust="spacingAndGlyphs">100%</text>
<text transform="translate(579.00,1140.00) rotate(-90)" font-size="18.4" fill="#181818" text-anchor="start" textLength="53.00" lengthAdjust="spacingAndGlyphs">66.7%</text>
<line x1="388.75" y1="844.75" x2="388.75" y2="1157.0" stroke="#4d4d4d" stroke-width="2.75"/>
<rect x="93.5" y="844.75" width="590.5" height="312.25" fill="none" stroke="#333" stroke-width="1"/>
<line x1="235.36" y1="1157.0" x2="235.36" y2="1165.7" stroke="#333" stroke-width="1.15"/><line x1="388.80" y1="1157.0" x2="388.80" y2="1165.7" stroke="#333" stroke-width="1.15"/><line x1="542.24" y1="1157.0" x2="542.24" y2="1165.7" stroke="#333" stroke-width="1.15"/>
<line x1="84.6" y1="858.60" x2="93.5" y2="858.60" stroke="#333" stroke-width="1.15"/><line x1="84.6" y1="929.65" x2="93.5" y2="929.65" stroke="#333" stroke-width="1.15"/><line x1="84.6" y1="1000.70" x2="93.5" y2="1000.70" stroke="#333" stroke-width="1.15"/><line x1="84.6" y1="1071.75" x2="93.5" y2="1071.75" stroke="#333" stroke-width="1.15"/><line x1="84.6" y1="1142.80" x2="93.5" y2="1142.80" stroke="#333" stroke-width="1.15"/>
<text x="76.30" y="863.80" font-size="15.5" fill="#181818" text-anchor="end" textLength="19.00" lengthAdjust="spacingAndGlyphs">40</text>
<text x="76.30" y="934.85" font-size="15.5" fill="#181818" text-anchor="end" textLength="19.00" lengthAdjust="spacingAndGlyphs">30</text>
<text x="76.30" y="1005.90" font-size="15.5" fill="#181818" text-anchor="end" textLength="19.00" lengthAdjust="spacingAndGlyphs">20</text>
<text x="76.30" y="1076.95" font-size="15.5" fill="#181818" text-anchor="end" textLength="17.00" lengthAdjust="spacingAndGlyphs">10</text>
<text x="76.60" y="1148.00" font-size="15.5" fill="#181818" text-anchor="end" textLength="10.60" lengthAdjust="spacingAndGlyphs">0</text>
<text transform="translate(39.20,1001.40) rotate(-90)" font-size="17.5" fill="#181818" text-anchor="middle" textLength="125.00" lengthAdjust="spacingAndGlyphs">GLOFs per bin</text>
<text x="0.0" y="861.9" font-size="27.5" font-weight="bold" fill="#000" stroke="#000" stroke-width="0.9" stroke-linejoin="round">c</text>
<text x="111.60" y="872.00" font-size="17.5" fill="#181818" textLength="180.50" lengthAdjust="spacingAndGlyphs">Unburst lakes: 99.4%</text>
<text x="471.30" y="872.00" font-size="17.5" fill="#181818" textLength="178.70" lengthAdjust="spacingAndGlyphs">Unburst lakes: 96.2%</text>
<text x="221.80" y="1189.50" font-size="16" fill="#181818" textLength="27.40" lengthAdjust="spacingAndGlyphs">10<tspan font-size="10.5" dy="-7.6">&#8722;2</tspan><tspan dy="7.6" font-size="1">&#8203;</tspan></text><text x="376.60" y="1189.50" font-size="16" fill="#181818" textLength="23.70" lengthAdjust="spacingAndGlyphs">10<tspan font-size="10.5" dy="-7.6">0</tspan><tspan dy="7.6" font-size="1">&#8203;</tspan></text><text x="530.40" y="1189.50" font-size="16" fill="#181818" textLength="22.90" lengthAdjust="spacingAndGlyphs">10<tspan font-size="10.5" dy="-7.6">2</tspan><tspan dy="7.6" font-size="1">&#8203;</tspan></text>
<text x="280.60" y="1217.00" font-size="17.5" fill="#181818" textLength="216.00" lengthAdjust="spacingAndGlyphs">Pre-GLOF lake area (km<tspan font-size="12.3" dy="-9.5">2</tspan><tspan dy="9.5" font-size="1">&#8203;</tspan>)</text>
</g>
</svg></body></html>
